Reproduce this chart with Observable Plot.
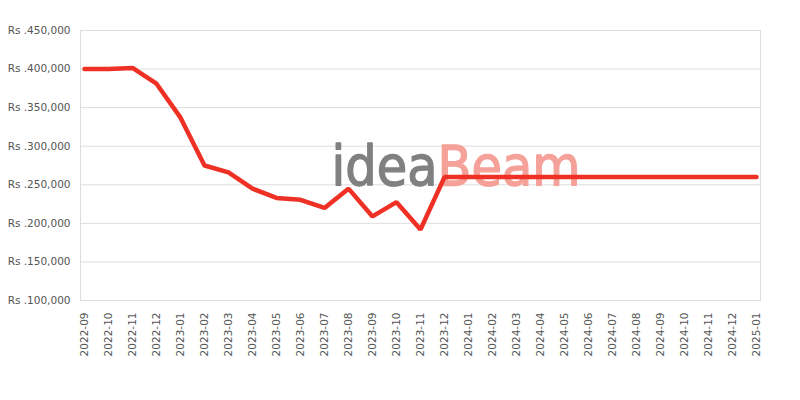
<!DOCTYPE html>
<html>
<head>
<meta charset="utf-8">
<script src="https://cdn.jsdelivr.net/npm/d3@7"></script>
<script src="https://cdn.jsdelivr.net/npm/@observablehq/plot@0.6"></script>
<style>
  html, body { margin: 0; padding: 0; background: #fff; }
  #chart { width: 800px; height: 400px; }
  .wm text { font-stretch: condensed; }
</style>
</head>
<body>
<div id="chart"></div>
<script>
const months = ["2022-09","2022-10","2022-11","2022-12","2023-01","2023-02","2023-03","2023-04","2023-05","2023-06","2023-07","2023-08","2023-09","2023-10","2023-11","2023-12","2024-01","2024-02","2024-03","2024-04","2024-05","2024-06","2024-07","2024-08","2024-09","2024-10","2024-11","2024-12","2025-01"];
const prices = [400000,400000,401500,381000,337000,275000,266000,245000,233000,230500,220000,245000,209000,227500,192000,260000,260000,260000,260000,260000,260000,260000,260000,260000,260000,260000,260000,260000,260000];
const yTicks = [100000,150000,200000,250000,300000,350000,400000,450000];

const data = months.map((m, i) => ({month: m, price: prices[i]}));
const fmt = d3.format(",");

const chart = Plot.plot({
  width: 800,
  height: 400,
  marginLeft: 80,
  marginRight: 40,
  marginTop: 30,
  marginBottom: 100,
  style: {fontFamily: "DejaVu Sans", fontSize: "10.5px", color: "#555", background: "#fff"},
  x: {type: "point", domain: months, padding: 0, label: null, tickRotate: -90, tickSize: 0, tickPadding: 12},
  y: {domain: [100000, 450000], ticks: yTicks, label: null, tickSize: 0, tickPadding: 10, tickFormat: d => "Rs ." + fmt(d)},
  marks: [
    Plot.gridY(yTicks, {stroke: "#ddd", strokeOpacity: 1}),
    Plot.frame({stroke: "#ddd"}),
    Plot.text(["idea"], {className: "wm", frameAnchor: "middle", text: d => d, textAnchor: "end", dx: 17, dy: 2, fontSize: 55, fontFamily: "DejaVu Sans Condensed, DejaVu Sans", fill: "#808080", stroke: "#808080", strokeWidth: 1.3, lineAnchor: "middle"}),
    Plot.text(["Beam"], {className: "wm", frameAnchor: "middle", text: d => d, textAnchor: "start", dx: 17, dy: 2, fontSize: 55, fontFamily: "DejaVu Sans Condensed, DejaVu Sans", fill: "#f5a199", stroke: "#f5a199", strokeWidth: 1.3, lineAnchor: "middle"}),
    Plot.line(data, {x: "month", y: "price", stroke: "#ee3124", strokeWidth: 4.5, strokeLinejoin: "miter"})
  ]
});
document.getElementById("chart").appendChild(chart);
</script>
</body>
</html>
